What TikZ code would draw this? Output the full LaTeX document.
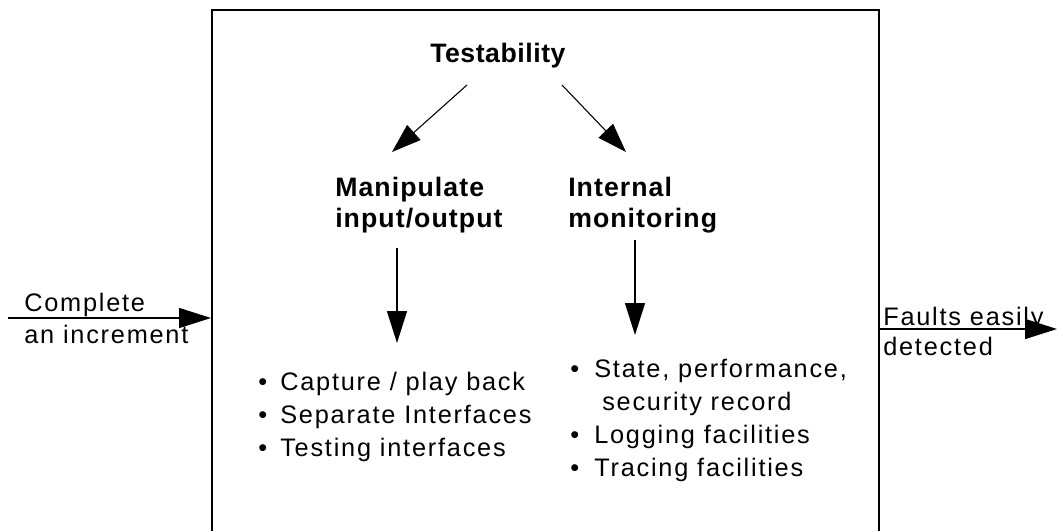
\documentclass[tikz,border=0pt]{standalone}
\usepackage{fontspec}
\setmainfont{Liberation Sans}
\newfontfamily\labfont[LetterSpace=7]{Liberation Sans}
\newfontfamily\lstfont[LetterSpace=7]{Liberation Sans}
\newfontfamily\hdfont[LetterSpace=4]{Liberation Sans}
\newfontfamily\tfont[LetterSpace=2]{Liberation Sans}
\usetikzlibrary{arrows.meta,fit}
\newcommand\bulL{\makebox[16.5pt][l]{•}}
\newcommand\bulR{\makebox[18pt][l]{•}}
\begin{document}
\begin{tikzpicture}[x=0.75pt,y=-0.75pt,
  lab/.style={anchor=base west, inner sep=0, font=\labfont\fontsize{19}{22}\selectfont},
  lst/.style={anchor=base west, inner sep=0, font=\lstfont\fontsize{19}{22}\selectfont},
  hd/.style={anchor=base west, inner sep=0, font=\hdfont\bfseries\fontsize{20}{24}\selectfont},
  ttl/.style={anchor=base west, inner sep=0, font=\tfont\bfseries\fontsize{20}{24}\selectfont},
  arr/.style={line width=1.1pt, -{Triangle[length=24pt,width=15pt]}},
  darr/.style={line width=0.8pt, -{Triangle[length=22pt,width=15pt]}},
  frame/.style={draw, line width=1.5pt, inner sep=0}]
\useasboundingbox (0,0) rectangle (1057,531);
\clip (0,0) rectangle (1057,531);
% main box (open at the bottom of the picture)
\coordinate (btl) at (212,10);
\coordinate (bbr) at (879,700);
\node[frame, fit=(btl)(bbr)] (box) {};
% input
\node[lab] (c1) at (24,311) {Complete};
\node[lab] (c2) at (24,343) {an increment};
\coordinate (inS) at (8,318);
\draw[arr] (inS) -- (inS -| box.west);
% output
\node[lab] (f1) at (883,325) {Faults easily};
\node[lab] (f2) at (883,355) {detected};
\coordinate (outE) at (1057,329);
\draw[arr] (outE -| box.east) -- (outE);
% headings
\node[ttl] (t) at (430,63) {Testability};
\node[hd] (m1) at (335,197) {Manipulate};
\node[hd] (m2) at (335,228) {input/output};
\node[hd] (i1) at (568,197) {Internal};
\node[hd] (i2) at (568,228) {monitoring};
% arrows
\coordinate (d1s) at (467,85);
\coordinate (d1e) at (392,152);
\coordinate (d2s) at (562,85);
\coordinate (d2e) at (626,152);
\draw[darr] (d1s) -- (d1e);
\draw[darr] (d2s) -- (d2e);
\coordinate (v1s) at (397,248);
\coordinate (v1e) at (397,343);
\coordinate (v2s) at (635,240);
\coordinate (v2e) at (635,335);
\draw[arr] (v1s) -- (v1e);
\draw[arr] (v2s) -- (v2e);
% left list
\node[lst] (l1) at (258,390) {\bulL Capture / play back};
\node[lst] (l2) at (258,423) {\bulL Separate Interfaces};
\node[lst] (l3) at (258,456) {\bulL Testing interfaces};
% right list
\node[lst] (r1) at (570,377) {\bulR State, performance,};
\node[lst] (r2) at (602,410) {security record};
\node[lst] (r3) at (570,443) {\bulR Logging facilities};
\node[lst] (r4) at (570,476) {\bulR Tracing facilities};
\end{tikzpicture}
\end{document}
